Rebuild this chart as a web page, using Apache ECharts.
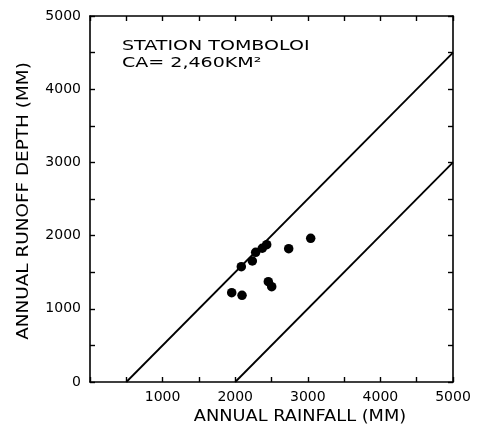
<!DOCTYPE html>
<html>
<head>
<meta charset="utf-8">
<script src="https://cdn.jsdelivr.net/npm/echarts@6/dist/echarts.min.js"></script>
<style>
  html, body { margin: 0; padding: 0; background: #fff; }
  #chart { width: 479px; height: 434px; }
</style>
</head>
<body>
<div id="chart"></div>
<script>
// Annual rainfall vs. annual runoff depth, station Tombolo I
const rainfall = [3040, 2737, 2434, 2373, 2282, 2236, 2084, 2456, 2503, 1952, 2094];
const runoff   = [1963, 1821, 1876, 1827, 1772, 1653, 1575, 1370, 1302, 1220, 1184];

// Envelope lines (rainfall, runoff)
const upperEnvelope = [[500, 0], [5000, 4500]];
const lowerEnvelope = [[2000, 0], [5000, 3000]];

const titleLines = ['STATION TOMBOLOI', 'CA= 2,460KM²'];
const xTitle = 'ANNUAL RAINFALL (MM)';
const yTitle = 'ANNUAL RUNOFF DEPTH (MM)';

const font = '"DejaVu Sans", Verdana, sans-serif';
const ink = '#000';

const points = rainfall.map((r, i) => [r, runoff[i]]);

// Shared frame axis: 0..5000 with inward ticks every 500
function frameAxis(extra) {
  return Object.assign({
    type: 'value', min: 0, max: 5000, interval: 500,
    axisLine: { show: true, onZero: false, lineStyle: { color: ink, width: 1.6 } },
    axisTick: { show: true, inside: true, length: 5, lineStyle: { color: ink, width: 1.4 } },
    splitLine: { show: false }
  }, extra);
}

const chart = echarts.init(document.getElementById('chart'), null, { renderer: 'canvas' });
chart.setOption({
  animation: false,
  backgroundColor: '#fff',
  grid: { left: 90, right: 26, top: 16, bottom: 52 },
  xAxis: [
    frameAxis({
      position: 'bottom',
      axisLabel: {
        fontFamily: font, fontSize: 14, color: ink, margin: 8,
        formatter: v => (v > 0 && v % 1000 === 0) ? String(v) : ''
      }
    }),
    frameAxis({ position: 'top', axisLabel: { show: false } })
  ],
  yAxis: [
    frameAxis({
      position: 'left',
      axisLabel: {
        fontFamily: font, fontSize: 14, color: ink, margin: 9,
        formatter: v => (v % 1000 === 0) ? String(v) : ''
      }
    }),
    frameAxis({ position: 'right', axisLabel: { show: false } })
  ],
  graphic: [
    {
      type: 'text', x: 122, y: 38, scaleX: 1.36,
      style: {
        text: titleLines.join('\n'), fontFamily: font, fontSize: 14,
        lineHeight: 17, fill: ink
      }
    },
    {
      type: 'text', x: 300, y: 417, scaleX: 1.11,
      style: {
        text: xTitle, fontFamily: font, fontSize: 16, fill: ink,
        align: 'center', verticalAlign: 'middle'
      }
    },
    {
      type: 'text', x: 24, y: 201, rotation: Math.PI / 2, scaleX: 1.15,
      style: {
        text: yTitle, fontFamily: font, fontSize: 16, fill: ink,
        align: 'center', verticalAlign: 'middle'
      }
    }
  ],
  series: [
    {
      type: 'line', data: upperEnvelope, symbol: 'none',
      lineStyle: { color: ink, width: 1.8 }
    },
    {
      type: 'line', data: lowerEnvelope, symbol: 'none',
      lineStyle: { color: ink, width: 1.8 }
    },
    {
      type: 'scatter', data: points, symbol: 'circle', symbolSize: 9.5,
      itemStyle: { color: ink, opacity: 1 }
    }
  ]
});
</script>
</body>
</html>
